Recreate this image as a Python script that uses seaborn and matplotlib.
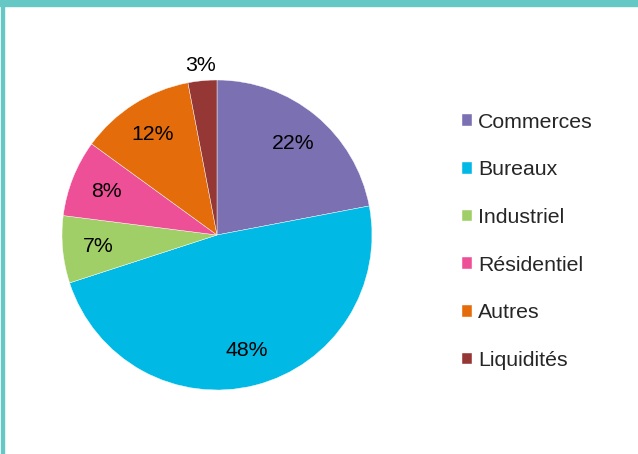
import matplotlib
matplotlib.use("Agg")
import matplotlib.pyplot as plt
import numpy as np
import seaborn as sns
from matplotlib.patches import Rectangle

categories = ["Commerces", "Bureaux", "Industriel", "Résidentiel", "Autres", "Liquidités"]
values = [22, 48, 7, 8, 12, 3]
colors = ["#7A70B2", "#00B9E4", "#A0CE67", "#EE5097", "#E46C0A", "#953735"]

sns.set_theme(style="white")
plt.rcParams['font.family'] = ['Liberation Sans', 'DejaVu Sans']

fig = plt.figure(figsize=(6.38, 4.54), dpi=100)
W, H = 638, 454
cx, cy, r = 217, 235, 155
ax = fig.add_axes([(cx - r) / W, (H - cy - r) / H, 2 * r / W, 2 * r / H])

wedges, texts, autotexts = ax.pie(
    values, colors=colors, startangle=90, counterclock=False,
    autopct=lambda p: f"{p:.0f}%", pctdistance=0.77,
    wedgeprops=dict(edgecolor="white", linewidth=0.3),
    textprops=dict(fontsize=15.3, color="black"))
ax.set_xlim(-1, 1)
ax.set_ylim(-1, 1)
ax.set_aspect("equal")

# small slice label sits outside the pie
w = wedges[-1]
ang = np.deg2rad((w.theta1 + w.theta2) / 2)
autotexts[-1].set_position((1.1 * np.cos(ang), 1.1 * np.sin(ang)))

fig.legend(wedges, categories, loc="upper left", bbox_to_anchor=(451 / W, 1 - 102 / H),
           frameon=False, fontsize=15.3, handlelength=0.47, handleheight=0.47,
           handletextpad=0.3, labelspacing=1.35, borderpad=0)

# teal frame pieces
fig.patches.append(Rectangle((0, 1 - 6 / H), 1, 6 / H, transform=fig.transFigure,
                             color="#66C8C4", zorder=0))
fig.patches.append(Rectangle((1 / W, 0), 3 / W, 1, transform=fig.transFigure,
                             color="#66C8C4", zorder=0))

fig.savefig("out.png", dpi=100)
